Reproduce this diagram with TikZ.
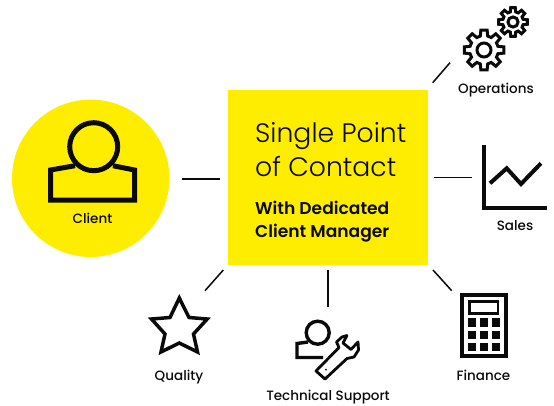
\documentclass[tikz,border=0pt]{standalone}
\usepackage{fontspec}
\setmainfont{Poppins}
\newfontfamily\lightf{Poppins Light}
\newfontfamily\medf{Poppins Medium}
\newfontfamily\semif{Poppins SemiBold}
\definecolor{brand}{HTML}{FFED00}
\definecolor{ink}{HTML}{0A0A0A}
\tikzset{
 link/.style={draw=ink,line width=1.5pt},
 icon/.style={draw=ink,line width=#1,miter limit=10},
 lab/.style={text=ink,font=\medf\fontsize{13.5}{15}\selectfont,inner sep=0pt,anchor=base},
 title/.style={text=ink,font=\lightf\fontsize{26.7}{30}\selectfont,inner sep=0pt,anchor=base west},
 sub/.style={text=ink,font=\semif\fontsize{17.1}{18}\selectfont,inner sep=0pt,anchor=base west},
 gear/.pic={
  \draw[icon=3pt,line join=miter] (-15:{0.72*#1}) foreach \a in {0,45,...,315}{
    -- ({\a-15}:{0.72*#1}) -- ({\a-9}:{#1}) -- ({\a+9}:{#1}) -- ({\a+15}:{0.72*#1})
  } -- cycle;
  \draw[icon=3pt] (0,0) circle ({0.35*#1});
 }
}
\begin{document}
\begin{tikzpicture}[x=1pt,y=-1pt]
\useasboundingbox (0,0) rectangle (554,405);
\fill[brand] (90.7,178.3) circle (78.7);
\node[fill=brand,minimum width=200pt,minimum height=175pt,inner sep=0pt] (hub) at (328,177.5) {};
\coordinate (cl) at (182,179); \coordinate (cr) at (220,179);
\draw[link] (cl) -- (cr);
\coordinate (sl) at (434,177.5); \coordinate (sr) at (472,177.5);
\draw[link] (sl) -- (sr);
\coordinate (oa) at (432.7,82.7); \coordinate (ob) at (450,62.7);
\draw[link] (oa) -- (ob);
\coordinate (fa) at (433,270); \coordinate (fb) at (451.7,290.7);
\draw[link] (fa) -- (fb);
\coordinate (qa) at (223.3,270); \coordinate (qb) at (205,290.7);
\draw[link] (qa) -- (qb);
\coordinate (ta) at (328,270); \coordinate (tb) at (328,307);
\draw[link] (ta) -- (tb);
% hub text
\node[title] (t1) at (255,142) {Single Point};
\node[title] (t2) at (255,176) {of Contact};
\node[sub] (t3) at (255,214.3) {With Dedicated};
\node[sub] (t4) at (255,237.5) {Client Manager};
% client
\draw[icon=5pt] (93.7,146.7) circle (24);
\draw[icon=5pt] (75,165.7) -- (50.5,170) -- (50.5,200) -- (134.5,200) -- (134.5,170) -- (113,165.7);
\node[lab] (n1) at (92.5,223) {Client};
% gears
\pic at (484,50) {gear=20};
\pic at (513,22) {gear=14.5};
\node[lab] (n2) at (496,93) {Operations};
% sales
\draw[icon=4pt] (484.3,145) -- (484.3,208.3) -- (547,208.3);
\draw[icon=4pt] (490,183.3) -- (506.7,168.3) -- (521,184) -- (541,163.3);
\node[lab] (n3) at (515,230) {Sales};
% finance
\draw[icon=4pt] (462,294.5) rectangle (505.6,356);
\draw[icon=2.8pt] (469.6,301.3) rectangle (498,313.7);
\foreach \x in {468,480,491.7}\foreach \y in {318.3,331,342.5}
  \fill[ink] (\x,\y) rectangle ++(8.3,8.3);
\node[lab] (n4) at (483.5,380) {Finance};
% star
\draw[icon=3.5pt] (179.3,298) -- (170,317.5) -- (151.5,319) -- (165,334) -- (161,352) -- (179.3,343) -- (197.5,352) -- (193.5,334) -- (207.2,319) -- (189,317.5) -- cycle;
\node[lab] (n5) at (179,380) {Quality};
% support
\draw[icon=3.4pt] (317.7,332.7) circle (11.5);
\draw[icon=3.4pt] (308,342) -- (297,343.5) -- (297,357.5) -- (323,357.5);
\draw[icon=2.8pt,line join=round] (325,379) -- (316,371) -- (339,347.5) -- (336.5,342) -- (342,337) -- (347,335.5) -- (343,343) -- (351,349.5) -- (358,342) -- (358.5,350) -- (354,357) -- (347,358.5) -- cycle;
\fill[ink] (326,369.5) circle (1);
\node[lab] (n6) at (328,400.5) {Technical Support};
\end{tikzpicture}
\end{document}
